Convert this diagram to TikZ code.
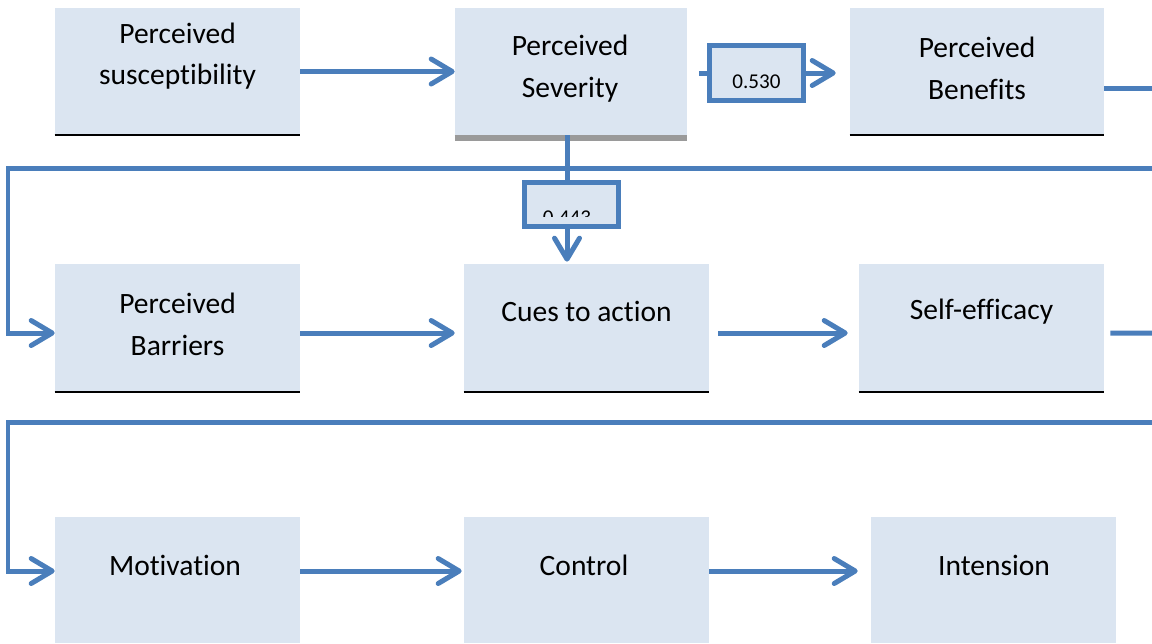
\documentclass[tikz,border=0pt]{standalone}
\usepackage{fontspec}
\setmainfont{Carlito}[Ligatures={NoCommon}]
\usetikzlibrary{positioning,calc,arrows.meta}
\definecolor{boxfill}{HTML}{DBE5F1}
\definecolor{linkblue}{HTML}{4A7EBB}
\definecolor{shadegray}{HTML}{9A9A9A}

\begin{document}
\begin{tikzpicture}
		[x=0.02cm, y=-0.02cm,
		box/.style={fill=boxfill, minimum width=4.9cm, minimum height=2.54cm, inner sep=0},
		lbl/.style={align=center, font=\fontsize{16.8}{23.8}\selectfont, inner sep=0},
		coef/.style={draw=linkblue, line width=0.1cm, fill=boxfill, minimum width=1.88cm, inner sep=0},
		link/.style={draw=linkblue, line width=0.1cm},
		arr/.style={link, -{Straight Barb[round, length=0.42cm, width=0.5cm]}}]
		\useasboundingbox (0,0) rectangle (1152,643);
		% row 1
		\node[box] (sus) at (177.5,71.5) {};
		\node[box, minimum width=4.64cm] (sev) at (571,71.5) {};
		\node[box, minimum width=5.08cm] (ben) at (977,71.5) {};
		% row 2
		\node[box, minimum height=2.56cm] (bar) at (177.5,328) {};
		\node[box, minimum height=2.56cm] (cue) at (586.5,328) {};
		\node[box, minimum height=2.56cm] (self) at (981.5,328) {};
		% row 3
		\node[box, minimum height=2.52cm] (mot) at (177.5,580) {};
		\node[box, minimum height=2.52cm] (con) at (586.5,580) {};
		\node[box, minimum height=2.52cm] (int) at (993.5,580) {};

		\node[lbl] (susT) at ($(sus.north)+(0,48.5)$) {Perceived\\susceptibility};
		\node[lbl] (sevT) at ($(sev.north)+(-1,61)$) {Perceived\\Severity};
		\node[lbl] (benT) at ($(ben.north)+(0,61)$) {Perceived\\Benefits};
		\node[lbl] (barT) at ($(bar.north)+(0,61)$) {Perceived\\Barriers};
		\node[lbl] (cueT) at ($(cue.north)+(0,48)$) {Cues to action};
		\node[lbl] (selfT) at ($(self.north)+(0,48)$) {Self-efficacy};
		\node[lbl] (motT) at ($(mot.north)+(-2.5,49)$) {Motivation};
		\node[lbl] (conT) at ($(con.north)+(-2.5,49)$) {Control};
		\node[lbl] (intT) at ($(int.north)+(0.5,49)$) {Intension};

		\foreach \n in {sus,ben,bar,cue,self}
			\draw[line width=0.04cm] (\n.south west) -- (\n.south east);
		\draw[shadegray, line width=0.12cm] ([yshift=-0.06cm]sev.south west) -- ([yshift=-0.06cm]sev.south east);

		% links
		\draw[arr] (sus.east) -- (sev.west);
		\node[coef, minimum height=1.1cm] (k530) at (756.5,73) {};
		\node[font=\fontsize{12}{14}\selectfont, inner sep=0] (v530) at (756.5,82) {0.530};
		\draw[link] ([xshift=0.24cm]sev.east |- k530.west) -- (k530.west);
		\draw[arr, shorten >=0.28cm] (k530.east) -- (k530.east -| ben.west);
		\coordinate (r1) at (1152,88);
		\draw[link] (ben.east |- r1) -- (r1);

		\coordinate (t1) at (1152,168);
		\coordinate (l1) at (8,168);
		\draw[arr] (t1) -- (l1) |- ([yshift=-0.1cm]bar.west);

		\node[coef, minimum height=0.88cm] (k443) at (571.5,204.5) {};
		\begin{scope}
			\clip (529,183) rectangle (614,216);
			\node[font=\fontsize{12}{14}\selectfont, inner sep=0] (v443) at (567,218) {0.443};
		\end{scope}
		\coordinate (d1) at (567,135);
		\draw[link] (d1) -- (d1 |- k443.north);
		\draw[arr, shorten >=0.04cm] (d1 |- k443.south) -- (d1 |- cue.north);

		\draw[arr, shorten >=0.18cm] ([yshift=-0.1cm]bar.east) -- ([yshift=-0.1cm]cue.west);
		\draw[arr, shorten <=0.18cm, shorten >=0.22cm] ([yshift=-0.1cm]cue.east) -- ([yshift=-0.1cm]self.west);
		\coordinate (r2) at (1152,333);
		\draw[link, shorten <=0.12cm] ([yshift=-0.1cm]self.east) -- (r2);

		\coordinate (t2) at (1152,422);
		\coordinate (l2) at (8,422);
		\draw[arr] (t2) -- (l2) |- ([yshift=0.18cm]mot.west);
		\draw[arr, shorten >=0.04cm] ([yshift=0.18cm]mot.east) -- ([yshift=0.18cm]con.west);
		\draw[arr, shorten >=0.26cm] ([yshift=0.18cm]con.east) -- ([yshift=0.18cm]int.west);
	\end{tikzpicture}
\end{document}
